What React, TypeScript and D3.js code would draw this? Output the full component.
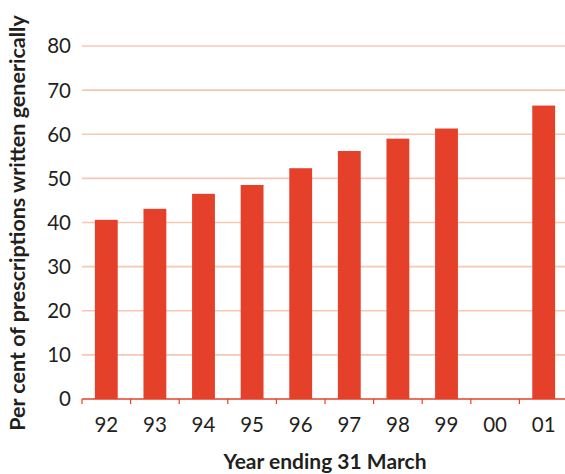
import React from "react";
import * as d3 from "d3";

const years = ["92", "93", "94", "95", "96", "97", "98", "99", "00", "01"];
const genericShare: (number | null)[] = [40.6, 43.1, 46.5, 48.5, 52.3, 56.2, 59.0, 61.3, null, 66.5];
const yTicks = [0, 10, 20, 30, 40, 50, 60, 70, 80];

const W = 565;
const H = 474;
const margin = { top: 46, right: -3, bottom: 75, left: 82 };
const FONT = "Lato, 'Open Sans', sans-serif";
const BAR = "#e4402a";
const GRID = "#f8c7b4";
const TEXT = "#231f20";

export default function App() {
  const x = d3
    .scaleBand<string>()
    .domain(years)
    .range([margin.left, W - margin.right])
    .paddingInner(0.53)
    .paddingOuter(0.265);
  const y = d3.scaleLinear().domain([0, 80]).range([H - margin.bottom, margin.top]);
  const step = x.step();
  const x0 = margin.left;
  const x1 = W - margin.right;
  const y0 = y(0);

  return (
    <svg
      width={W}
      height={H}
      style={{ position: "absolute", left: 0, top: 0, background: "#fff" }}
      fontFamily={FONT}
    >
      {yTicks
        .filter((t) => t > 0)
        .map((t) => (
          <line key={t} x1={x0} x2={x1} y1={y(t)} y2={y(t)} stroke={GRID} strokeWidth={1.6} />
        ))}
      {yTicks.map((t) => (
        <text
          key={t}
          x={71}
          y={y(t)}
          dy="0.36em"
          textAnchor="end"
          fontSize={20.5}
          fill={TEXT}
        >
          {t}
        </text>
      ))}
      {years.map((yr, i) => {
        const v = genericShare[i];
        if (v == null) return null;
        return (
          <rect
            key={yr}
            x={x(yr)!}
            y={y(v)}
            width={x.bandwidth()}
            height={y0 - y(v)}
            fill={BAR}
          />
        );
      })}
      <line x1={x0} x2={x1} y1={y0} y2={y0} stroke={BAR} strokeWidth={1.6} />
      {years.map((yr, i) => {
        const tx = x0 + i * step;
        return <line key={yr} x1={tx} x2={tx} y1={y0} y2={y0 + 5} stroke={BAR} strokeWidth={1.2} />;
      })}
      {years.map((yr) => (
        <text
          key={yr}
          x={x(yr)! + x.bandwidth() / 2}
          y={432}
          textAnchor="middle"
          fontSize={20.5}
          fill={TEXT}
        >
          {yr}
        </text>
      ))}
      <text
        x={325}
        y={469}
        textAnchor="middle"
        fontSize={21}
        fontWeight="bold"
        fill={TEXT}
      >
        Year ending 31 March
      </text>
      <text
        transform={`translate(25, 223) rotate(-90)`}
        textAnchor="middle"
        fontSize={21.5}
        fontWeight="bold"
        fill={TEXT}
      >
        Per cent of prescriptions written generically
      </text>
    </svg>
  );
}
